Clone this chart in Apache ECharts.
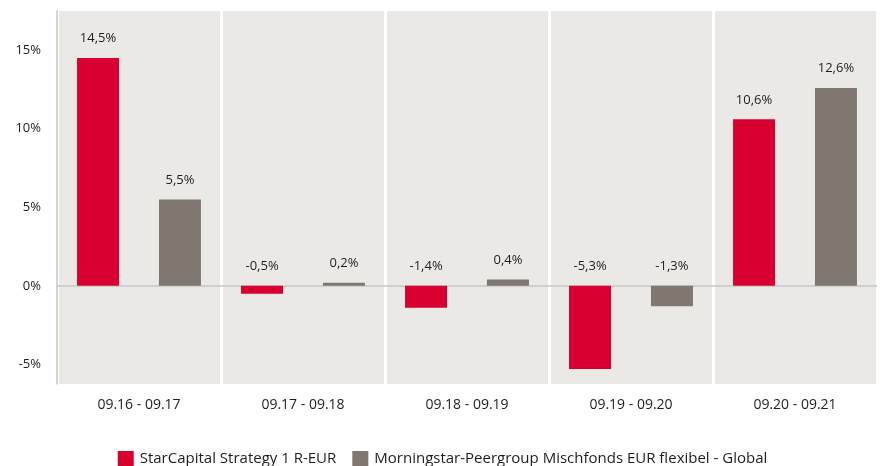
<!DOCTYPE html>
<html><head><meta charset="utf-8">
<script src="https://cdn.jsdelivr.net/npm/echarts@6/dist/echarts.min.js"></script>
<style>html,body{margin:0;padding:0;background:#fff}#c{width:885px;height:466px}</style>
</head><body><div id="c"></div>
<script>
const categories = ['09.16 - 09.17','09.17 - 09.18','09.18 - 09.19','09.19 - 09.20','09.20 - 09.21'];
const seriesNames = ['StarCapital Strategy 1 R-EUR','Morningstar-Peergroup Mischfonds EUR flexibel - Global'];
const fundValues = [14.5, -0.5, -1.4, -5.3, 10.6];
const peerValues = [5.5, 0.2, 0.4, -1.3, 12.6];
const yTicks = [-5, 0, 5, 10, 15];

const fmt = v => String(v).replace('.', ',') + '%';
const font = '"Open Sans", sans-serif';
const chart = echarts.init(document.getElementById('c'));
const labelCfg = {show:true, position:'top', distance:13, color:'#1e1e1e', fontFamily:font, fontSize:13,
  formatter: p => fmt(p.value)};
chart.setOption({
  animation:false,
  textStyle:{fontFamily:font},
  grid:{left:57, right:8, top:11, bottom:82, containLabel:false},
  legend:{top:446, left:'center', itemWidth:16, itemHeight:16, itemGap:16, icon:'rect',
    textStyle:{fontFamily:font, fontSize:15, color:'#1e1e1e', padding:[0,0,0,1]}, data:seriesNames},
  xAxis:{type:'category', data:categories,
    axisLine:{show:false}, axisTick:{show:false},
    axisLabel:{color:'#1e1e1e', fontSize:14, fontFamily:font, margin:14},
    splitArea:{show:true, areaStyle:{color:['#ebe9e6']}},
    splitLine:{show:true, lineStyle:{color:'#ffffff', width:3}}},
  yAxis:{type:'value', min:-6.25, max:17.5, interval:1.25,
    axisLine:{show:true, lineStyle:{color:'#c6c6c6', width:1.5}}, axisTick:{show:false},
    splitLine:{show:false},
    axisLabel:{color:'#1e1e1e', fontSize:13, fontFamily:font, margin:16,
      formatter: v => yTicks.includes(v) ? v + '%' : ''}},
  series:[
    {name:seriesNames[0], type:'bar', data:fundValues, barWidth:42, barGap:'95%',
      itemStyle:{color:'#d7002e'}, label:labelCfg,
      markLine:{silent:true, symbol:'none', label:{show:false},
        lineStyle:{color:'#c6c6c6', width:1.5, type:'solid'}, data:[{yAxis:0}], z:1}},
    {name:seriesNames[1], type:'bar', data:peerValues, barWidth:42,
      itemStyle:{color:'#7f7770'}, label:labelCfg}
  ]
});
</script></body></html>
